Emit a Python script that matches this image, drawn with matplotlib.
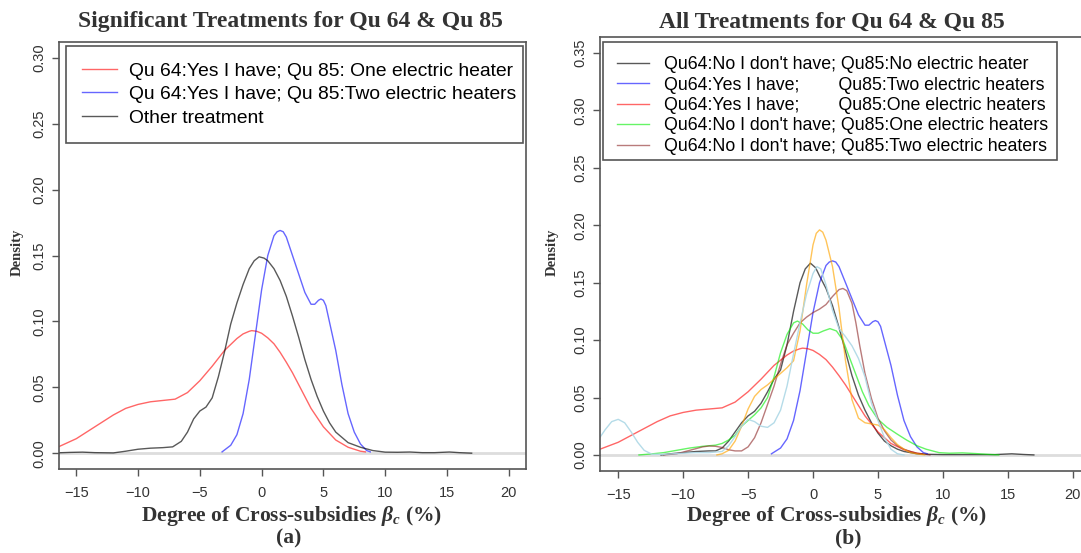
import matplotlib
matplotlib.use('Agg')
import matplotlib.pyplot as plt
from matplotlib.patches import Rectangle

plt.rcParams['font.family'] = ['Liberation Sans', 'DejaVu Sans']
plt.rcParams['mathtext.fontset'] = 'custom'
plt.rcParams['mathtext.it'] = 'Liberation Serif:italic:bold'
plt.rcParams['mathtext.rm'] = 'Liberation Serif:bold'
plt.rcParams['mathtext.bf'] = 'Liberation Serif:bold'

# density curves (x = beta_c %, y = density)
red_x = [-16.4, -15, -14, -13, -12, -11, -10, -9, -8, -7, -6, -5, -4, -3, -2, -1.5, -1, -0.8,
         -0.4, 0, 0.5, 1, 1.5, 2, 2.5, 3, 3.5, 4, 4.5, 5, 6, 7, 8, 8.4]
red_y = [0.005, 0.011, 0.017, 0.023, 0.029, 0.034, 0.037, 0.039, 0.040, 0.041, 0.046, 0.055,
         0.066, 0.078, 0.087, 0.0905, 0.0925, 0.093, 0.0925, 0.091, 0.0875, 0.083, 0.0765,
         0.069, 0.061, 0.052, 0.043, 0.034, 0.027, 0.020, 0.010, 0.0045, 0.0015, 0.001]

blue_x = [-3.2, -2.5, -2, -1.5, -1, -0.5, 0, 0.5, 1, 1.25, 1.5, 1.75, 2, 2.5, 3, 3.5, 4, 4.3,
          4.6, 4.8, 5.0, 5.2, 5.6, 6, 6.5, 7, 7.5, 8, 8.5, 8.8]
blue_y = [0.001, 0.006, 0.014, 0.030, 0.056, 0.090, 0.124, 0.150, 0.165, 0.168, 0.169, 0.168,
          0.164, 0.150, 0.136, 0.122, 0.113, 0.113, 0.116, 0.117, 0.116, 0.112, 0.095, 0.078,
          0.052, 0.030, 0.016, 0.007, 0.002, 0.001]

other_x = [-16.4, -15.5, -14.5, -13.5, -12, -11, -10, -9, -8, -7.2, -6.5, -6, -5.5, -5, -4.5,
           -4, -3.5, -3, -2.5, -2, -1.5, -1, -0.6, -0.2, 0.2, 0.5, 1, 1.5, 2, 2.5, 3, 3.5, 4,
           4.5, 5, 5.5, 6, 7, 8, 9, 10, 11, 12, 13, 14, 15.2, 16, 17]
other_y = [0.0003, 0.0006, 0.0008, 0.0004, 0.0002, 0.0015, 0.003, 0.0038, 0.0042, 0.0048,
           0.009, 0.016, 0.026, 0.032, 0.035, 0.042, 0.058, 0.077, 0.098, 0.114, 0.128, 0.140,
           0.146, 0.149, 0.148, 0.146, 0.140, 0.131, 0.119, 0.104, 0.088, 0.071, 0.056, 0.043,
           0.032, 0.023, 0.016, 0.008, 0.0045, 0.002, 0.0008, 0.0007, 0.0009, 0.0004, 0.0004,
           0.0009, 0.0004, 0.0]

nono_x = [-11.7, -11, -10, -9, -8, -7.5, -7, -6.5, -6, -5.5, -5, -4.5, -4, -3.5, -3, -2.5, -2,
          -1.5, -1, -0.6, -0.2, 0.2, 0.5, 1, 1.5, 2, 2.5, 3, 3.5, 4, 4.5, 5, 5.5, 6, 6.5, 7, 8,
          9, 10, 12, 14, 15.3, 16.2, 17]
nono_y = [0, 0.001, 0.002, 0.003, 0.0035, 0.0035, 0.006, 0.012, 0.020, 0.028, 0.034, 0.038,
          0.045, 0.055, 0.066, 0.074, 0.096, 0.125, 0.150, 0.162, 0.167, 0.163, 0.156, 0.145,
          0.130, 0.111, 0.090, 0.069, 0.052, 0.039, 0.028, 0.019, 0.012, 0.008, 0.005, 0.003,
          0.001, 0.0005, 0.0003, 0.0003, 0.0003, 0.001, 0.0004, 0]

orange_x = [-7.4, -7, -6.5, -6, -5.5, -5, -4.5, -4, -3.5, -3, -2.5, -2, -1.5, -1, -0.5, 0, 0.25,
            0.5, 0.75, 1, 1.5, 2, 2.5, 3, 3.5, 4, 4.5, 5, 5.5, 6, 6.5, 7, 7.5, 8, 8.6]
orange_y = [0, 0.001, 0.004, 0.012, 0.025, 0.040, 0.051, 0.057, 0.061, 0.066, 0.071, 0.076,
            0.082, 0.108, 0.148, 0.183, 0.193, 0.196, 0.194, 0.187, 0.164, 0.128, 0.082, 0.048,
            0.032, 0.028, 0.027, 0.026, 0.022, 0.015, 0.009, 0.005, 0.002, 0.001, 0]

lblue_x = [-16.5, -16, -15.5, -15, -14.5, -14, -13.5, -13, -12.4, -11.5, -10, -9, -8, -7, -6.5,
           -6, -5.5, -5, -4.5, -4, -3.5, -3, -2.5, -2, -1.5, -1, -0.5, 0, 0.3, 0.6, 1, 1.5, 2,
           2.5, 3, 3.5, 4, 4.5, 5, 5.5, 6, 6.5, 7]
lblue_y = [0.0137, 0.022, 0.029, 0.031, 0.028, 0.020, 0.011, 0.004, 0.0006, 0.0005, 0.0015,
           0.002, 0.002, 0.003, 0.008, 0.016, 0.025, 0.031, 0.029, 0.025, 0.024, 0.028, 0.039,
           0.060, 0.088, 0.115, 0.140, 0.158, 0.164, 0.162, 0.148, 0.126, 0.110, 0.103, 0.095,
           0.084, 0.068, 0.045, 0.030, 0.015, 0.005, 0.001, 0]

green_x = [-13.4, -12.5, -11.5, -10.5, -9.5, -8.5, -7.5, -7, -6.5, -6, -5.5, -5, -4.5, -4, -3.5,
           -3, -2.5, -2, -1.5, -1.2, -0.8, -0.4, 0, 0.4, 0.8, 1.3, 1.8, 2.3, 2.8, 3.3, 3.8, 4.3,
           5, 5.7, 6.5, 7.2, 8, 8.7, 9.7, 10.5, 11.5, 12.5, 13.5, 14.3]
green_y = [0, 0.0008, 0.002, 0.004, 0.006, 0.0075, 0.0085, 0.010, 0.013, 0.017, 0.025, 0.030,
           0.035, 0.041, 0.050, 0.068, 0.089, 0.105, 0.115, 0.1166, 0.114, 0.109, 0.106, 0.106,
           0.108, 0.110, 0.108, 0.100, 0.085, 0.070, 0.055, 0.043, 0.031, 0.024, 0.018, 0.013,
           0.008, 0.005, 0.002, 0.0015, 0.0018, 0.0012, 0.0005, 0]

brown_x = [-11.5, -10.5, -9.5, -8.5, -8, -7.5, -7, -6.5, -6, -5.5, -5, -4.5, -4, -3.5, -3, -2.5,
           -2, -1.5, -1, -0.5, 0, 0.5, 1, 1.5, 2, 2.3, 2.6, 3, 3.3, 3.6, 4, 4.5, 5, 5.5, 6, 6.5,
           7, 7.5, 8, 9]
brown_y = [0, 0.001, 0.004, 0.007, 0.0078, 0.0075, 0.0065, 0.0045, 0.0035, 0.0035, 0.007, 0.015,
           0.028, 0.044, 0.060, 0.079, 0.096, 0.106, 0.115, 0.120, 0.124, 0.127, 0.131, 0.138,
           0.144, 0.145, 0.143, 0.132, 0.115, 0.095, 0.071, 0.049, 0.032, 0.021, 0.013, 0.008,
           0.005, 0.003, 0.0015, 0]

left_labels = ['Qu 64:Yes I have; Qu 85: One electric heater',
               'Qu 64:Yes I have; Qu 85:Two electric heaters',
               'Other treatment']
right_labels = ["Qu64:No I don't have; Qu85:No electric heater",
                'Qu64:Yes I have;        Qu85:Two electric heaters',
                'Qu64:Yes I have;        Qu85:One electric heaters',
                "Qu64:No I don't have; Qu85:One electric heaters",
                "Qu64:No I don't have; Qu85:Two electric heaters"]

xticks = [-15, -10, -5, 0, 5, 10, 15, 20]
yticks_left = [0.00, 0.05, 0.10, 0.15, 0.20, 0.25, 0.30]
yticks_right = [0.00, 0.05, 0.10, 0.15, 0.20, 0.25, 0.30, 0.35]

W, H = 1081, 553
fig = plt.figure(figsize=(W / 100, H / 100), dpi=100)
ax1 = fig.add_axes([59 / W, 1 - 469 / H, 467 / W, 427 / H])
ax2 = fig.add_axes([600 / W, 1 - 471 / H, 491 / W, 434 / H])

serif = 'Liberation Serif'
txt = '#333333'
edge = '#555555'


def style(ax, yticks, ymax):
    ax.set_xlim(-16.4, 21.4)
    ax.set_ylim(-0.04 * ymax, 1.04 * ymax)
    ax.axhline(0, color='#dddddd', lw=2, zorder=1)
    ax.set_xticks(xticks)
    ax.set_xticklabels([str(t).replace('-', '\u2212') for t in xticks])
    ax.set_yticks(yticks)
    ax.set_yticklabels(['%.2f' % t for t in yticks], rotation=90, va='center')
    ax.tick_params(direction='out', length=5, width=1, color=edge, labelcolor=txt,
                   labelsize=10.5, pad=4)
    ax.tick_params(axis='x', pad=7)
    for s in ax.spines.values():
        s.set_color(edge)
        s.set_linewidth(1.2)


# (a) significant treatments
style(ax1, yticks_left, 0.30)
lw = 1.0
ax1.plot(red_x, red_y, color='red', alpha=0.6, lw=lw, label=left_labels[0])
ax1.plot(blue_x, blue_y, color='blue', alpha=0.6, lw=lw, label=left_labels[1])
ax1.plot(other_x, other_y, color='black', alpha=0.65, lw=lw, label=left_labels[2])
leg1 = ax1.legend(loc='upper left', bbox_to_anchor=(0.015, 0, 0.9786, 0.9906), mode='expand',
                  borderaxespad=0, fancybox=False, edgecolor=edge, framealpha=1,
                  prop={'size': 13.9}, handlelength=1.8, handletextpad=0.6,
                  labelspacing=0.3, borderpad=0.85)
leg1.get_frame().set_linewidth(1.2)

# (b) all treatments
style(ax2, yticks_right, 0.35)
ax2.plot(nono_x, nono_y, color='black', alpha=0.65, lw=lw, label=right_labels[0])
ax2.plot(blue_x, blue_y, color='blue', alpha=0.6, lw=lw, label=right_labels[1])
ax2.plot(red_x, red_y, color='red', alpha=0.6, lw=lw, label=right_labels[2])
ax2.plot(green_x, green_y, color='#00ee00', alpha=0.6, lw=lw, label=right_labels[3])
ax2.plot(brown_x, brown_y, color='#8b2323', alpha=0.6, lw=lw, label=right_labels[4])
ax2.plot(orange_x, orange_y, color='orange', alpha=0.65, lw=lw)
ax2.plot(lblue_x, lblue_y, color='lightblue', alpha=0.9, lw=lw)
leg2 = ax2.legend(loc='upper left', bbox_to_anchor=(0.006, 0, 0.9246, 0.9885), mode='expand',
                  borderaxespad=0, frameon=False, prop={'size': 12.8}, handlelength=1.8,
                  handletextpad=0.85, labelspacing=0.19, borderpad=0.8)
leg2.set_zorder(6)
# legend box drawn separately (pixel box 603..1057 x 42..160)
ax2.add_patch(Rectangle((3 / 491, (471 - 160) / 434), 454 / 491, 118 / 434,
                        transform=ax2.transAxes, facecolor='white', edgecolor=edge,
                        lw=1.2, zorder=5))

# titles and axis labels
fig.text(290 / W, 1 - 22 / H, 'Significant Treatments for Qu 64 & Qu 85', ha='center',
         va='center', family=serif, weight='bold', size=17, color=txt)
fig.text(832 / W, 1 - 22 / H, 'All Treatments for Qu 64 & Qu 85', ha='center',
         va='center', family=serif, weight='bold', size=17, color=txt)
xlab = r'Degree of Cross-subsidies $\beta_c$ (%)'
fig.text(292 / W, 1 - 516 / H, xlab, ha='center', va='center', family=serif, weight='bold',
         size=15.5, color=txt)
fig.text(837 / W, 1 - 516 / H, xlab, ha='center', va='center', family=serif, weight='bold',
         size=15.5, color=txt)
fig.text(289 / W, 1 - 538 / H, '(a)', ha='center', va='center', family=serif, weight='bold',
         size=15.5, color=txt)
fig.text(848 / W, 1 - 538 / H, '(b)', ha='center', va='center', family=serif, weight='bold',
         size=15.5, color=txt)
fig.text(17 / W, 1 - 252 / H, 'Density', rotation=90, ha='center', va='center', family=serif,
         weight='bold', size=10.5, color=txt)
fig.text(552 / W, 1 - 252 / H, 'Density', rotation=90, ha='center', va='center', family=serif,
         weight='bold', size=10.5, color=txt)

fig.savefig('out.png', dpi=100)
